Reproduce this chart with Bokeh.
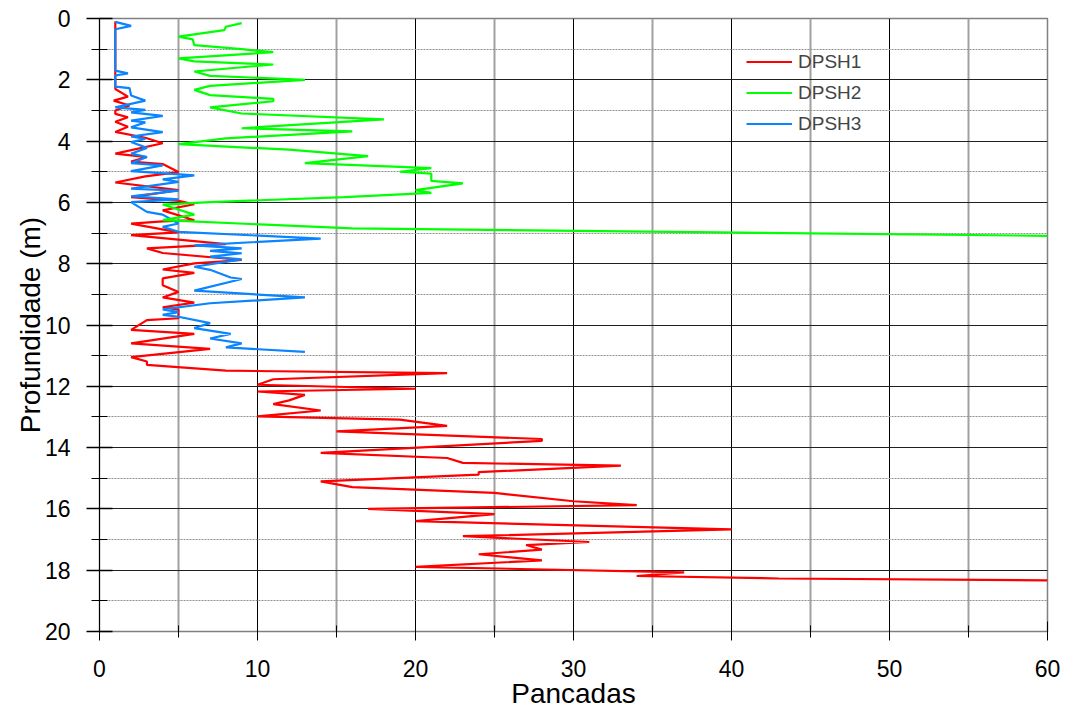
from bokeh.plotting import figure
from bokeh.models import Range1d, FixedTicker, Legend, LegendItem
from bokeh.embed import file_html
from bokeh.resources import INLINE

# ---------------- data ----------------
series_names = ["DPSH1", "DPSH2", "DPSH3"]

dpsh1_depth = [0.1, 2.3, 2.55, 2.68, 2.84, 3.0, 3.11, 3.22, 3.37, 3.53, 3.7, 3.89, 4.07, 4.41,
               4.52, 4.67, 4.75, 5.01, 5.15, 5.35, 5.6, 5.83, 5.95, 6.06, 6.26, 6.58, 6.62,
               6.69, 6.98, 7.07, 7.36, 7.5, 7.65, 7.88, 7.99, 8.19, 8.3, 8.48, 8.7, 8.92, 9.1,
               9.27, 9.42, 9.5, 9.78, 9.84, 10.16, 10.29, 10.6, 10.78, 11.05, 11.19, 11.3,
               11.49, 11.57, 11.77, 11.95, 12.08, 12.17, 12.28, 12.46, 12.58, 12.79, 12.98,
               13.09, 13.29, 13.47, 13.72, 13.78, 14.17, 14.34, 14.5, 14.59, 14.8, 14.88, 15.1,
               15.29, 15.48, 15.75, 15.88, 16.0, 16.17, 16.4, 16.67, 16.89, 17.08, 17.18, 17.33,
               17.48, 17.68, 17.89, 18.07, 18.19, 18.27, 18.33]
dpsh1_blows = [1, 1, 1.8, 0.9, 1.9, 1, 1, 1.8, 1, 1.8, 1, 2.9, 4, 1,
               3, 2, 4, 5, 2.9, 1, 5, 2, 5, 6, 4, 6, 4,
               2, 5, 2, 8, 3, 4, 9, 6, 4, 6, 4, 4, 5, 4,
               6, 4, 5, 5, 3, 2, 6, 2, 7, 2, 3, 3,
               8, 22, 11, 10, 20, 10, 13, 12, 11, 14, 10,
               19, 22, 15, 28, 28, 14, 22, 23, 33, 24, 24, 14,
               16, 25, 30, 34, 17, 25, 20, 40, 23, 31, 27, 28,
               24, 28, 20, 37, 34, 43, 60]

dpsh2_depth = [0.15, 0.27, 0.38, 0.59, 0.68, 0.87, 1.0, 1.1, 1.3, 1.4, 1.5, 1.73, 1.87, 2.0,
               2.2, 2.33, 2.5, 2.62, 2.7, 2.9, 3.1, 3.29, 3.58, 3.68, 3.91, 4.1, 4.28, 4.49,
               4.72, 4.88, 5.0, 5.06, 5.3, 5.38, 5.6, 5.69, 5.83, 5.99, 6.07, 6.4, 6.58, 6.85,
               7.09]
dpsh2_blows = [9, 8, 7.9, 5, 5.9, 6, 9, 11, 5, 6, 11, 6, 7, 13,
               7, 6, 7, 11, 11, 7, 9, 18, 9, 16, 8, 5, 12, 17,
               13, 21, 19, 21, 21, 23, 20, 21, 15.5, 7, 4, 6, 4, 16,
               60]

dpsh3_depth = [0.11, 0.24, 0.35, 1.7, 1.79, 1.86, 2.22, 2.27, 2.51, 2.68, 2.9, 2.98, 3.06,
               3.18, 3.33, 3.39, 3.55, 3.71, 3.85, 3.93, 4.03, 4.22, 4.41, 4.52, 4.72, 4.79,
               4.98, 5.12, 5.25, 5.33, 5.55, 5.62, 5.8, 5.9, 5.99, 6.31, 6.4, 6.69, 6.8, 6.96,
               7.18, 7.4, 7.5, 7.58, 7.66, 7.77, 7.86, 8.1, 8.2, 8.45, 8.5, 8.88, 9.1, 9.29,
               9.49, 9.58, 9.67, 9.73, 9.94, 10.1, 10.29, 10.44, 10.6, 10.73, 10.88]
dpsh3_blows = [1, 2, 1, 1, 1.8, 1, 1, 1.9, 2, 2.9, 1, 2.9, 2,
               4, 2, 2.9, 2, 4, 2, 2.9, 2, 3, 2, 3, 2, 4,
               2, 6, 4, 5, 2, 5, 2, 5, 2, 3, 4, 5, 4, 5,
               14, 6, 9, 7, 9, 7, 9, 6, 7, 8.3, 9, 6, 13, 7,
               4, 5, 4, 5, 7, 6, 8.3, 7, 9, 8, 13]

x_ticks = [0, 10, 20, 30, 40, 50, 60]
x_minor = [5, 15, 25, 35, 45, 55]
y_ticks = [0, 2, 4, 6, 8, 10, 12, 14, 16, 18, 20]
y_minor = [1, 3, 5, 7, 9, 11, 13, 15, 17, 19]

FONT = "Liberation Sans"

p = figure(width=1068, height=711, x_range=Range1d(0, 60), y_range=Range1d(20, 0),
           output_backend="svg", toolbar_location=None,
           min_border_left=99, min_border_right=21, min_border_top=18, min_border_bottom=79)
p.background_fill_color = "white"
p.border_fill_color = "white"
p.outline_line_color = "#808080"
p.outline_line_width = 1.5

xt = FixedTicker(ticks=x_ticks, minor_ticks=x_minor)
yt = FixedTicker(ticks=y_ticks, minor_ticks=y_minor)
p.xaxis.ticker = xt
p.yaxis.ticker = yt
p.xgrid.ticker = xt
p.ygrid.ticker = yt

p.xgrid.grid_line_color = "black"
p.xgrid.grid_line_width = 1
p.xgrid.minor_grid_line_color = "#a0a0a0"
p.xgrid.minor_grid_line_width = 2
p.ygrid.grid_line_color = "#202020"
p.ygrid.grid_line_width = 1.2
p.ygrid.minor_grid_line_color = "#909090"
p.ygrid.minor_grid_line_width = 1
p.ygrid.minor_grid_line_dash = "2 1"

for ax in (p.xaxis, p.yaxis):
    ax.major_label_text_font = FONT
    ax.major_label_text_font_size = "23px"
    ax.major_label_text_color = "black"
    ax.axis_label_text_font = FONT
    ax.axis_label_text_font_size = "28px"
    ax.axis_label_text_font_style = "normal"
    ax.axis_label_text_color = "black"
    ax.major_tick_line_color = "black"
    ax.minor_tick_line_color = "black"

p.xaxis.axis_label = "Pancadas"
p.xaxis.axis_line_color = "#808080"
p.xaxis.major_tick_in = 10
p.xaxis.major_tick_out = 9
p.xaxis.minor_tick_in = 6
p.xaxis.minor_tick_out = 6
p.xaxis.major_label_standoff = 19
p.xaxis.axis_label_standoff = -2

p.yaxis.axis_label = "Profundidade (m)"
p.yaxis.axis_line_color = "black"
p.yaxis.major_tick_in = 13
p.yaxis.major_tick_out = 13
p.yaxis.minor_tick_in = 8
p.yaxis.minor_tick_out = 8
p.yaxis.major_tick_line_width = 1.5
p.yaxis.major_label_standoff = 16
p.yaxis.axis_label_standoff = -4

r1 = p.line(dpsh1_blows, dpsh1_depth, line_color="#ff0000", line_width=2.2)
r3 = p.line(dpsh3_blows, dpsh3_depth, line_color="#0a84ff", line_width=2.2)
r2 = p.line(dpsh2_blows, dpsh2_depth, line_color="#00ff00", line_width=2.2)

legend = Legend(items=[LegendItem(label=series_names[0], renderers=[r1]),
                       LegendItem(label=series_names[1], renderers=[r2]),
                       LegendItem(label=series_names[2], renderers=[r3])],
                location=(642, 490))
legend.background_fill_alpha = 0
legend.border_line_alpha = 0
legend.label_text_font = FONT
legend.label_text_font_size = "19px"
legend.glyph_width = 46
legend.glyph_height = 25
legend.label_height = 25
legend.spacing = 6
legend.padding = 5
legend.margin = 0
legend.label_standoff = 6
p.add_layout(legend)

open("out.html", "w").write(file_html(p, INLINE))
